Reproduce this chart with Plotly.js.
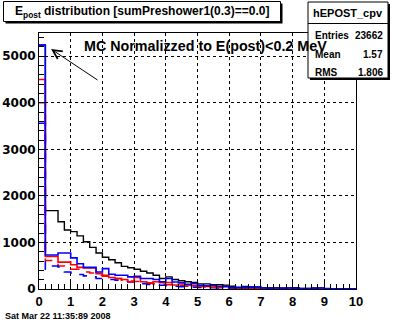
<!DOCTYPE html>
<html><head><meta charset="utf-8">
<script src="https://cdn.plot.ly/plotly-3.0.1.min.js"></script>
<style>html,body{margin:0;padding:0;background:#fff}#plot{width:396px;height:322px}</style>
</head><body><div id="plot"></div>
<script>
const binWidth = 0.2;
const xMin = 0, xMax = 10;
const mcBlack = [5240,1683,1683,1444,1268,1232,1141,1014,894,775,683,627,563,486,458,423,380,345,296,225,260,204,176,155,141,110,110,95,95,80,60,20,55,45,45,30,30,30,20,20,30,10,10,25,25,5,5,5,5,5];
const dataBlue = [5240,732,732,775,775,669,542,465,465,366,437,317,296,296,260,275,225,225,204,155,225,150,134,99,113,80,70,75,60,50,30,35,30,40,35,20,15,20,15,20,15,10,10,15,20,10,5,5,5,5];
const dataRed = [4500,697,697,577,577,521,465,451,451,331,296,246,225,204,155,246,155,134,155,134,141,85,106,85,70,60,55,40,45,60,20,30,15,25,10,10,10,10,15,5,5,5,5,5,5,5,5,5,5,5];
const dashRed = [4000,613,613,493,472,423,423,366,345,296,275,240,225,190,169,160,140,120,110,100,90,80,70,60,55,50,45,40,30,35,25,20,20,15,15,10,10,10,10,8,8,6,6,5,5,5,5,5,5,5];
const dashBlue = [3560,423,493,472,366,345,310,282,260,225,225,204,190,169,150,130,115,100,90,80,70,60,50,45,40,35,30,28,25,22,20,18,15,12,10,10,8,8,6,6,5,5,5,5,4,4,4,4,4,4];
const xTickVals = [0,1,2,3,4,5,6,7,8,9,10];
const yTickVals = [0,1000,2000,3000,4000,5000];

function stepTrace(vals, color, dash, width){
  const x = [], y = [];
  for (let i=0;i<vals.length;i++){ x.push(xMin + i*binWidth); y.push(vals[i]); }
  x.push(xMin + vals.length*binWidth); y.push(vals[vals.length-1]);
  return {x:x, y:y, type:'scatter', mode:'lines', line:{shape:'hv', color:color, dash:dash, width:width}, hoverinfo:'skip', showlegend:false};
}

const traces = [
  stepTrace(mcBlack,'#000000','solid',1.4),
  stepTrace(dashRed,'#ff0000','dash',1.6),
  stepTrace(dashBlue,'#0000ff','dash',1.6),
  stepTrace(dataRed,'#ff0000','solid',1.6),
  stepTrace(dataBlue,'#0000ff','solid',1.6)
];

// pixel helpers for the plot frame
const L=39,R=356,T=33,B=289;
const px = v => (v-L)/(R-L);
const py = v => (B-v)/(B-T);
const F = 'Liberation Sans, Arial, sans-serif';

function box(x0,y0,x1,y1){
  return [
    {type:'rect',xref:'paper',yref:'paper',x0:px(x0+2),x1:px(x1+2),y0:py(y0+2),y1:py(y1+2),fillcolor:'#000',line:{width:0},layer:'above'},
    {type:'rect',xref:'paper',yref:'paper',x0:px(x0),x1:px(x1),y0:py(y0),y1:py(y1),fillcolor:'#fff',line:{color:'#000',width:1},layer:'above'}
  ];
}

const shapes = [].concat(box(3.5,1.5,280.5,21.5), box(308,2,388,78), [
  {type:'line',xref:'paper',yref:'paper',x0:px(308),x1:px(388),y0:py(23.5),y1:py(23.5),line:{color:'#000',width:1},layer:'above'}
]);

const ann = [
  {xref:'paper',yref:'paper',x:px(142),y:py(12),text:'E<sub>post</sub> distribution [sumPreshower1(0.3)==0.0]',showarrow:false,xanchor:'center',yanchor:'middle',font:{family:F,size:12,color:'#000',weight:'bold'}},
  {xref:'paper',yref:'paper',x:px(348),y:py(13),text:'hEPOST_cpv',showarrow:false,xanchor:'center',yanchor:'middle',font:{family:F,size:11,color:'#000',weight:'bold'}},
  {xref:'paper',yref:'paper',x:px(313),y:py(35),text:'Entries',showarrow:false,xanchor:'left',yanchor:'middle',font:{family:F,size:10,color:'#000',weight:'bold'}},
  {xref:'paper',yref:'paper',x:px(385),y:py(35),text:'23662',showarrow:false,xanchor:'right',yanchor:'middle',font:{family:F,size:10,color:'#000',weight:'bold'}},
  {xref:'paper',yref:'paper',x:px(313),y:py(54),text:'Mean',showarrow:false,xanchor:'left',yanchor:'middle',font:{family:F,size:10,color:'#000',weight:'bold'}},
  {xref:'paper',yref:'paper',x:px(385),y:py(54),text:'1.57',showarrow:false,xanchor:'right',yanchor:'middle',font:{family:F,size:10,color:'#000',weight:'bold'}},
  {xref:'paper',yref:'paper',x:px(313),y:py(72),text:'RMS',showarrow:false,xanchor:'left',yanchor:'middle',font:{family:F,size:10,color:'#000',weight:'bold'}},
  {xref:'paper',yref:'paper',x:px(385),y:py(72),text:'1.806',showarrow:false,xanchor:'right',yanchor:'middle',font:{family:F,size:10,color:'#000',weight:'bold'}},
  {xref:'paper',yref:'paper',x:px(82),y:py(46),text:'MC Normalizzed to E(post)<0.2 MeV',showarrow:false,xanchor:'left',yanchor:'middle',font:{family:F,size:14.3,color:'#000',weight:'bold'}},
  {xref:'paper',yref:'paper',x:px(51),y:py(49),ax:48,ay:32,text:'',showarrow:true,arrowhead:5,arrowsize:1.8,arrowwidth:1,arrowcolor:'#000',standoff:0},
  {xref:'paper',yref:'paper',x:px(3),y:py(316),text:'Sat Mar 22 11:35:89 2008',showarrow:false,xanchor:'left',yanchor:'middle',font:{family:F,size:9,color:'#000',weight:'bold'}}
];

const axisCommon = {
  ticks:'inside', tickcolor:'#000', tickwidth:1, showline:true, linecolor:'#000', linewidth:1, mirror:true,
  showgrid:true, gridcolor:'#000', griddash:'dot', gridwidth:1, zeroline:false, fixedrange:true, layer:'above traces'
};

const layout = {
  width:396, height:322,
  margin:{l:L, r:396-R, t:T, b:322-B, pad:0},
  paper_bgcolor:'#fff', plot_bgcolor:'#fff',
  showlegend:false,
  xaxis:Object.assign({}, axisCommon, {range:[xMin,xMax], tickvals:xTickVals, ticktext:xTickVals.map(String), ticklen:9,
    minor:{dtick:binWidth, ticks:'inside', ticklen:5, tickcolor:'#000', showgrid:false},
    tickfont:{family:F,size:13,color:'#000',weight:'bold'}}),
  yaxis:Object.assign({}, axisCommon, {range:[0,5500], tickvals:yTickVals, ticktext:yTickVals.map(String), ticklen:9,
    minor:{dtick:200, ticks:'inside', ticklen:5, tickcolor:'#000', showgrid:false},
    tickfont:{family:'DejaVu Sans, sans-serif',size:12,color:'#000',weight:'bold'}}),
  shapes:shapes,
  annotations:ann
};

Plotly.newPlot('plot', traces, layout, {staticPlot:true, displayModeBar:false});
</script>
</body></html>
